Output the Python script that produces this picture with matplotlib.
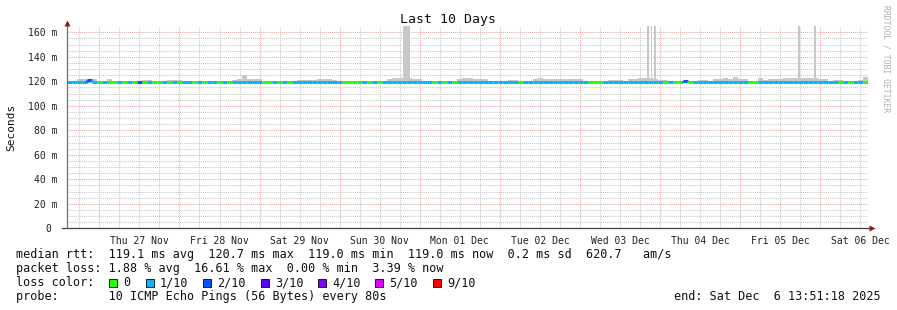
import matplotlib
matplotlib.use("Agg")
import matplotlib.pyplot as plt
from matplotlib.collections import LineCollection
from matplotlib.patches import Rectangle

# ---------------- data ----------------
title = "Last 10 Days"
ylabel = "Seconds"
day_labels = ["Thu 27 Nov", "Fri 28 Nov", "Sat 29 Nov", "Sun 30 Nov", "Mon 01 Dec",
              "Tue 02 Dec", "Wed 03 Dec", "Thu 04 Dec", "Fri 05 Dec", "Sat 06 Dec"]
span_hours = 240.0
first_midnight_h = 9.7
bin_hours = 1.5  # each value below covers 1.5 h

# median rtt in ms per bin
median_ms = [
    119.1, 119.1, 119.2, 119.1, 120.7, 119.2, 119.1, 119.0, 119.1, 119.1,
    119.1, 119.0, 119.1, 119.1, 119.2, 119.1, 119.0, 119.1, 119.1, 119.1,
    119.1, 119.2, 119.1, 119.1, 119.0, 119.1, 119.1, 119.1, 119.1, 119.0,
    119.1, 119.1, 119.0, 119.1, 119.2, 119.3, 119.2, 119.1, 119.1, 119.1,
    119.1, 119.1, 119.0, 119.1, 119.1, 119.1, 119.2, 119.2, 119.1, 119.2,
    119.2, 119.1, 119.1, 119.1, 119.1, 119.1, 119.0, 119.1, 119.1, 119.1,
    119.1, 119.1, 119.1, 119.1, 119.2, 119.2, 119.3, 119.3, 119.2, 119.1,
    119.1, 119.1, 119.1, 119.1, 119.0, 119.1, 119.1, 119.1, 119.1, 119.2,
    119.2, 119.1, 119.1, 119.1, 119.1, 119.0, 119.1, 119.1, 119.1, 119.1,
    119.1, 119.1, 119.1, 119.2, 119.2, 119.1, 119.2, 119.1, 119.1, 119.2,
    119.1, 119.1, 119.1, 119.1, 119.1, 119.1, 119.0, 119.1, 119.1, 119.1,
    119.1, 119.1, 119.1, 119.2, 119.3, 119.3, 119.2, 119.2, 119.1, 119.1,
    119.1, 119.1, 119.1, 120.5, 119.1, 119.1, 119.1, 119.1, 119.1, 119.1,
    119.2, 119.2, 119.1, 119.2, 119.1, 119.1, 119.1, 119.1, 119.1, 119.1,
    119.1, 119.1, 119.1, 119.2, 119.2, 119.2, 119.2, 119.1, 119.1, 119.1,
    119.1, 119.1, 119.1, 119.1, 119.1, 119.1, 119.1, 119.1, 119.1, 119.1,
]

# packet loss (out of 10) per bin
loss = [
    1, 1, 1, 1, 2, 1, 0, 1, 0, 0,
    1, 0, 1, 0, 2, 0, 1, 0, 0, 1,
    0, 1, 0, 1, 1, 0, 1, 0, 1, 1,
    0, 1, 0, 1, 1, 1, 1, 1, 1, 0,
    0, 1, 0, 1, 0, 1, 1, 1, 1, 1,
    1, 1, 1, 1, 1, 0, 0, 0, 0, 1,
    0, 1, 0, 1, 1, 1, 1, 1, 1, 1,
    1, 1, 1, 0, 1, 0, 1, 0, 1, 1,
    1, 1, 1, 1, 1, 1, 1, 1, 1, 1,
    0, 1, 1, 1, 1, 1, 1, 1, 1, 1,
    1, 1, 1, 1, 0, 0, 0, 1, 1, 1,
    1, 1, 1, 1, 1, 1, 1, 1, 1, 0,
    1, 0, 0, 2, 0, 1, 1, 1, 1, 1,
    1, 1, 1, 1, 1, 1, 0, 0, 1, 1,
    1, 1, 1, 1, 1, 1, 1, 1, 1, 1,
    1, 1, 1, 1, 0, 1, 0, 1, 1, 0,
]

# smoke (max ping) in ms per bin
smoke_top_ms = [
    120.0, 120.0, 121.5, 121.5, 121.8, 121.5, 120.0, 120.2, 121.5, 120.0,
    120.0, 120.0, 120.0, 120.0, 120.0, 121.3, 121.0, 120.0, 120.0, 120.0,
    121.2, 121.3, 121.0, 120.0, 120.0, 120.0, 120.0, 120.0, 120.0, 120.0,
    120.0, 120.0, 120.0, 121.0, 121.8, 125.5, 121.8, 121.5, 121.5, 120.0,
    120.0, 120.0, 120.0, 120.0, 120.0, 120.0, 121.0, 121.2, 121.0, 121.3,
    122.0, 121.8, 121.5, 121.0, 120.0, 120.0, 120.0, 120.0, 120.0, 120.0,
    120.0, 120.0, 120.0, 120.0, 121.5, 122.5, 122.8, 122.5, 122.5, 122.0,
    121.5, 120.0, 120.0, 120.0, 120.0, 120.0, 120.0, 120.0, 121.5, 122.5,
    122.5, 122.0, 122.0, 121.5, 120.0, 120.0, 120.0, 120.0, 121.2, 121.0,
    120.0, 120.0, 120.0, 121.5, 122.3, 122.0, 121.8, 122.0, 121.8, 122.0,
    121.8, 121.5, 121.5, 120.0, 120.0, 120.0, 120.0, 120.0, 121.0, 121.2,
    121.0, 120.0, 121.5, 122.0, 122.5, 122.5, 122.5, 122.0, 121.2, 121.0,
    120.0, 120.0, 120.0, 120.0, 120.0, 120.0, 121.0, 121.0, 120.0, 121.5,
    122.0, 122.3, 122.0, 123.5, 121.5, 121.5, 120.0, 120.0, 123.0, 121.2,
    121.5, 122.0, 121.5, 122.5, 122.8, 123.0, 122.8, 122.5, 122.5, 122.5,
    122.0, 121.5, 120.0, 121.2, 121.0, 120.0, 120.0, 120.0, 121.0, 123.2,
]
smoke_bottom_ms = 118.4

# tall smoke spikes: start hour, end hour, top value (ms)
spike_start_h = [100.8, 173.7, 174.9, 175.8, 219.0, 223.8]
spike_end_h = [102.9, 174.3, 175.3, 176.4, 219.6, 224.4]
spike_top_ms = [200.0, 200.0, 200.0, 200.0, 200.0, 200.0]

loss_levels = [0, 1, 2, 3, 4, 5, 9]
loss_names = ["0", "1/10", "2/10", "3/10", "4/10", "5/10", "9/10"]
loss_colors = ["#26ff00", "#00b8ff", "#0059ff", "#5e00ff", "#7e00ff", "#dd00ff", "#ff0000"]

stats_line1 = "median rtt:  119.1 ms avg  120.7 ms max  119.0 ms min  119.0 ms now  0.2 ms sd  620.7   am/s"
stats_line2 = "packet loss: 1.88 % avg  16.61 % max  0.00 % min  3.39 % now"
probe_line = "probe:       10 ICMP Echo Pings (56 Bytes) every 80s"
end_text = "end: Sat Dec  6 13:51:18 2025"
watermark = "RRDTOOL / TOBI OETIKER"

y_max_ms = 165.1
y_ticks_ms = [0, 20, 40, 60, 80, 100, 120, 140, 160]
y_tick_labels = ["0 ", "20 m", "40 m", "60 m", "80 m", "100 m", "120 m", "140 m", "160 m"]

# ---------------- figure ----------------
W, H = 897, 310
MONO = "DejaVu Sans Mono"
plt.rcParams["font.family"] = MONO

fig = plt.figure(figsize=(W / 100, H / 100), dpi=100, facecolor="white")
x0, x1, ytop, ybot = 67, 868, 26, 228.3
ax = fig.add_axes([x0 / W, (H - ybot) / H, (x1 - x0) / W, (ybot - ytop) / H])
ax.set_facecolor("white")
ax.set_xlim(0, span_hours)
ax.set_ylim(0, y_max_ms)

# grid
grid_gray = "#c8c8c8"
grid_red = "#e8a8a8"
dot = (0, (1, 1))
h = 0.0
minor_x = []
t = first_midnight_h % 6
while t < span_hours:
    minor_x.append(t)
    t += 6
for t in minor_x:
    is_major = abs(((t - first_midnight_h) / 24) - round((t - first_midnight_h) / 24)) < 1e-6
    ax.axvline(t, color=grid_red if is_major else grid_gray, lw=0.75, ls=dot, zorder=0.5)
for v in range(5, 165, 5):
    ax.axhline(v, color=grid_red if v % 20 == 0 else grid_gray, lw=0.75, ls=dot, zorder=0.5)

# smoke
xs = [i * bin_hours for i in range(len(median_ms) + 1)]
ax.stairs(smoke_top_ms, xs, baseline=smoke_bottom_ms, fill=True, color="#c8c8c8", lw=0, zorder=2)
for s, e, top in zip(spike_start_h, spike_end_h, spike_top_ms):
    ax.fill_between([s, e], smoke_bottom_ms, top, color="#c8c8c8", lw=0, zorder=2)

# median line coloured by loss
color_of = dict(zip(loss_levels, loss_colors))
segs, cols = [], []
for i, (m, l) in enumerate(zip(median_ms, loss)):
    segs.append([(xs[i], m), (xs[i + 1], m)])
    cols.append(color_of[l])
    if i + 1 < len(median_ms) and median_ms[i + 1] != m:
        segs.append([(xs[i + 1], m), (xs[i + 1], median_ms[i + 1])])
        cols.append(color_of[loss[i + 1]])
ax.add_collection(LineCollection(segs, colors=cols, linewidths=2.2, capstyle="butt", zorder=3))

# axes
for sp in ax.spines.values():
    sp.set_visible(False)
ax.plot([-5 / 801 * span_hours, span_hours + 2 / 801 * span_hours], [0, 0], color="#404040",
        lw=0.9, clip_on=False, zorder=4)
ax.plot([0, 0], [0, y_max_ms + 1.5], color="#707070", lw=0.9, clip_on=False, zorder=4)
ax.plot([0], [y_max_ms + 2.5], marker="^", ms=4.5, color="#8b1a1a", clip_on=False, zorder=5, mec="none")
ax.plot([span_hours + 1.2], [0], marker=">", ms=4.5, color="#8b1a1a", clip_on=False, zorder=5, mec="none")

noons = [first_midnight_h + 12 + 24 * k for k in range(len(day_labels))]
ax.set_xticks(noons)
ax.set_xticklabels(day_labels, fontsize=7, family=MONO, color="#202020")
ax.set_yticks(y_ticks_ms)
ax.set_yticklabels(y_tick_labels, fontsize=7, family=MONO, color="#202020")
ax.tick_params(axis="both", length=0)
ax.tick_params(axis="y", pad=7)
ax.tick_params(axis="x", pad=5.5)


def ftext(x, y, s, **kw):
    kw.setdefault("fontsize", 8.5)
    kw.setdefault("family", MONO)
    kw.setdefault("color", "#101010")
    return fig.text(x / W, 1 - y / H, s, va="center", **kw)


ftext(448, 19.5, title, ha="center", fontsize=9.5)
ftext(11, 127, ylabel, ha="center", rotation=90, fontsize=8)
ftext(886, 59, watermark, ha="center", rotation=270, fontsize=5.8, color="#b0b0b0")

ftext(16, 254.5, stats_line1)
ftext(16, 268.5, stats_line2)
ftext(16, 282.5, "loss color:")
sq_x = [109, 146, 203, 261, 318, 375, 433]
for sx, name, c in zip(sq_x, loss_names, loss_colors):
    fig.add_artist(Rectangle((sx / W, 1 - (282.5 + 4) / H), 8 / W, 8 / H, transform=fig.transFigure,
                             facecolor=c, edgecolor="#000000", lw=0.6))
    ftext(sx + 14, 282.5, name)
ftext(16, 296.5, probe_line)
ftext(881, 296.5, end_text, ha="right")

fig.savefig("out.png", dpi=100, facecolor="white")
